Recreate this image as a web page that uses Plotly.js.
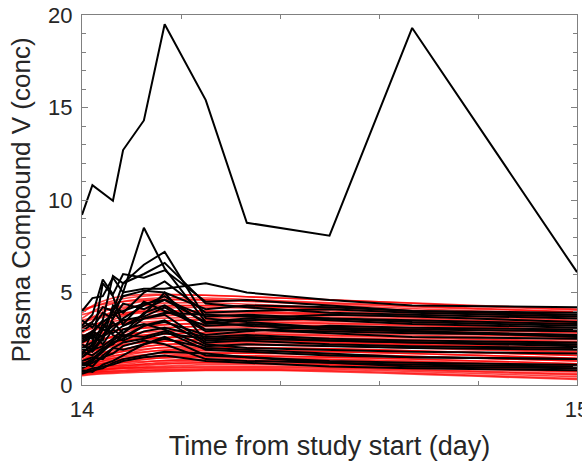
<!DOCTYPE html>
<html>
<head>
<meta charset="utf-8">
<script src="https://cdn.plot.ly/plotly-3.0.1.min.js"></script>
<style>html,body{margin:0;padding:0;background:#fff;}#chart{width:582px;height:461px;}</style>
</head>
<body>
<div id="chart"></div>
<script>
// Simulated (model) time grid, day
var simTime = [14, 14.03, 14.08, 14.15, 14.25, 14.4, 14.6, 14.8, 15];
// Simulated concentration curves (red)
var simValues = [
  [3.9, 4.4, 4.8, 4.9, 4.85, 4.7, 4.5, 4.25, 4.05],
  [4.0, 4.3, 4.65, 4.85, 4.85, 4.7, 4.5, 4.3, 4.1],
  [4.1, 4.3, 4.5, 4.6, 4.6, 4.5, 4.3, 4.1, 3.95],
  [3.6, 4.1, 4.5, 4.7, 4.7, 4.55, 4.35, 4.15, 3.95],
  [3.3, 3.8, 4.3, 4.6, 4.6, 4.45, 4.2, 4.0, 3.8],
  [3.0, 3.6, 4.1, 4.4, 4.45, 4.3, 4.1, 3.9, 3.7],
  [3.8, 4.0, 4.2, 4.3, 4.3, 4.2, 4.0, 3.85, 3.7],
  [2.8, 3.3, 3.8, 4.2, 4.3, 4.2, 4.0, 3.8, 3.6],
  [2.5, 3.1, 3.7, 4.1, 4.2, 4.1, 3.9, 3.7, 3.5],
  [3.4, 3.6, 3.8, 3.95, 4.0, 3.95, 3.8, 3.6, 3.4],
  [3.5, 3.7, 3.9, 4.0, 4.0, 3.9, 3.75, 3.6, 3.45],
  [2.6, 3.0, 3.4, 3.8, 3.9, 3.85, 3.7, 3.5, 3.35],
  [2.2, 2.8, 3.3, 3.7, 3.8, 3.75, 3.6, 3.45, 3.3],
  [3.2, 3.3, 3.5, 3.6, 3.65, 3.6, 3.5, 3.4, 3.25],
  [2.0, 2.5, 3.0, 3.4, 3.55, 3.5, 3.4, 3.25, 3.1],
  [2.9, 3.1, 3.3, 3.45, 3.5, 3.4, 3.3, 3.15, 3.0],
  [1.8, 2.3, 2.8, 3.2, 3.35, 3.35, 3.25, 3.1, 2.95],
  [2.4, 2.7, 3.0, 3.25, 3.3, 3.25, 3.15, 3.0, 2.85],
  [1.6, 2.1, 2.6, 3.0, 3.2, 3.2, 3.1, 2.95, 2.8],
  [2.7, 2.8, 3.0, 3.1, 3.15, 3.1, 3.0, 2.85, 2.7],
  [1.5, 1.9, 2.4, 2.8, 3.0, 3.0, 2.9, 2.75, 2.6],
  [2.1, 2.4, 2.7, 2.9, 3.0, 2.95, 2.85, 2.7, 2.55],
  [1.3, 1.8, 2.3, 2.7, 2.85, 2.85, 2.75, 2.6, 2.45],
  [2.3, 2.45, 2.6, 2.75, 2.8, 2.75, 2.65, 2.5, 2.35],
  [1.2, 1.6, 2.1, 2.5, 2.7, 2.7, 2.6, 2.45, 2.3],
  [2.0, 2.2, 2.4, 2.55, 2.6, 2.55, 2.45, 2.3, 2.15],
  [1.9, 2.1, 2.35, 2.55, 2.6, 2.6, 2.5, 2.35, 2.2],
  [1.1, 1.5, 1.9, 2.3, 2.5, 2.5, 2.4, 2.25, 2.1],
  [1.7, 1.9, 2.15, 2.35, 2.45, 2.4, 2.3, 2.15, 2.0],
  [1.8, 2.0, 2.2, 2.35, 2.4, 2.35, 2.25, 2.1, 1.95],
  [1.0, 1.4, 1.8, 2.15, 2.3, 2.3, 2.2, 2.05, 1.9],
  [1.5, 1.7, 1.95, 2.15, 2.25, 2.2, 2.1, 1.95, 1.8],
  [0.95, 1.3, 1.65, 2.0, 2.15, 2.15, 2.05, 1.9, 1.75],
  [1.4, 1.6, 1.8, 2.0, 2.05, 2.0, 1.9, 1.75, 1.6],
  [0.9, 1.2, 1.55, 1.85, 2.0, 2.0, 1.9, 1.75, 1.6],
  [1.3, 1.45, 1.65, 1.85, 1.9, 1.85, 1.75, 1.6, 1.45],
  [0.85, 1.1, 1.4, 1.7, 1.85, 1.85, 1.75, 1.6, 1.45],
  [1.2, 1.35, 1.5, 1.7, 1.75, 1.7, 1.6, 1.45, 1.3],
  [0.8, 1.05, 1.3, 1.55, 1.7, 1.7, 1.6, 1.45, 1.3],
  [1.1, 1.25, 1.4, 1.55, 1.6, 1.55, 1.45, 1.3, 1.15],
  [0.75, 0.95, 1.2, 1.45, 1.55, 1.55, 1.45, 1.3, 1.15],
  [1.0, 1.15, 1.3, 1.45, 1.5, 1.45, 1.35, 1.2, 1.05],
  [0.7, 0.9, 1.1, 1.3, 1.4, 1.4, 1.3, 1.15, 1.0],
  [0.95, 1.05, 1.2, 1.3, 1.35, 1.3, 1.2, 1.05, 0.9],
  [0.7, 0.85, 1.0, 1.2, 1.3, 1.3, 1.2, 1.05, 0.9],
  [0.65, 0.8, 0.95, 1.1, 1.2, 1.2, 1.1, 0.95, 0.8],
  [0.85, 0.95, 1.05, 1.15, 1.2, 1.15, 1.05, 0.9, 0.75],
  [0.65, 0.75, 0.9, 1.0, 1.1, 1.1, 1.0, 0.85, 0.7],
  [0.7, 0.8, 0.9, 0.95, 1.0, 1.0, 0.9, 0.75, 0.6],
  [0.6, 0.7, 0.8, 0.9, 0.95, 0.95, 0.85, 0.7, 0.55],
  [0.6, 0.68, 0.75, 0.82, 0.88, 0.88, 0.78, 0.62, 0.45],
  [0.55, 0.62, 0.7, 0.78, 0.82, 0.82, 0.7, 0.52, 0.35],
  [0.5, 0.58, 0.65, 0.72, 0.78, 0.78, 0.65, 0.47, 0.3]
];

// Observed sampling times, day
var obsTime = [14, 14.021, 14.042, 14.0625, 14.083, 14.125, 14.167, 14.25, 14.333, 14.5, 14.667, 15];
// Observed concentrations per subject (black); null = not sampled
var obsValues = [
  [9.2, 10.8, null, 9.96, 12.7, 14.3, 19.5, 15.4, 8.77, 8.07, 19.3, 6.1],
  [2.0, 1.8, 2.5, 3.6, 5.0, 8.5, 6.3, 3.4, 3.2, 3.0, 2.9, 2.7],
  [1.5, 2.0, 3.0, 4.0, 5.5, 6.5, 7.2, 3.6, 3.4, 3.1, 2.9, 2.6],
  [2.5, 2.8, 3.5, 5.9, 5.5, 6.0, 6.6, 4.4, 4.2, 3.9, 3.8, 3.6],
  [4.0, 4.7, 4.8, 5.8, 5.0, 5.2, 5.2, 5.5, 5.0, 4.6, 4.3, 4.2],
  [3.2, 3.8, 5.7, 4.9, 6.0, 5.8, 6.2, 4.5, 4.6, 4.3, 4.0, 3.9],
  [1.7, 2.2, 5.5, 4.8, 3.2, 3.8, 5.0, 2.4, 2.5, 2.4, 2.3, 2.2],
  [2.2, 1.9, 2.6, 3.0, 3.6, 4.3, 4.8, 3.3, 3.5, 3.6, 3.4, 3.2],
  [1.6, 2.9, 2.6, 3.4, 2.8, 3.9, 4.3, 3.0, 3.0, 2.9, 2.8, 2.7],
  [1.0, 1.3, 1.8, 2.3, 2.5, 3.2, 3.5, 2.2, 2.0, 1.9, 1.8, 1.7],
  [0.8, 0.7, 1.1, 1.3, 1.6, 2.2, 2.5, 2.0, 1.9, 1.7, 1.5, 1.4],
  [2.7, 2.5, 3.1, 4.0, 3.3, 4.5, 4.0, 3.2, 3.3, 3.1, 3.0, 2.9],
  [1.3, 1.5, 1.4, 2.0, 2.3, 2.5, 2.8, 2.5, 2.6, 2.4, 2.3, 2.1],
  [2.9, 3.3, 3.0, 2.8, 3.2, 3.6, 3.9, 3.8, 3.7, 3.5, 3.3, 3.1],
  [0.6, 0.8, 0.9, 1.2, 1.4, 1.6, 1.8, 1.7, 1.5, 1.2, 1.0, 0.9],
  [1.9, 2.1, 3.3, 2.7, 2.4, 2.9, 3.1, 2.6, 2.7, 2.5, 2.4, 2.3],
  [2.3, 2.6, 2.4, 4.3, 3.9, 5.0, 5.6, 3.9, 4.0, 4.1, 3.9, 3.7],
  [1.2, 1.0, 1.6, 2.0, 1.9, 2.2, 2.6, 1.6, 1.5, 1.3, 1.2, 1.1],
  [3.5, 3.1, 3.9, 3.6, 4.4, 4.1, 4.6, 3.4, 3.6, 3.8, 3.7, 3.4],
  [1.5, 1.9, 2.1, 2.5, 3.0, 3.3, 3.0, 2.1, 2.2, 2.1, 2.0, 1.9],
  [2.0, 2.3, 2.7, 3.2, 3.5, 3.7, 4.2, 2.9, 3.0, 2.8, 2.6, 2.5],
  [0.9, 1.2, 1.5, 1.7, 2.1, 2.4, 2.2, 1.4, 1.3, 1.2, 1.1, 1.0],
  [2.4, 2.7, 2.2, 3.0, 2.6, 3.2, 3.4, 2.7, 2.9, 3.2, 3.1, 3.0],
  [1.1, 1.4, 1.9, 2.4, 2.8, 3.6, 3.8, 2.3, 2.4, 2.2, 2.1, 2.0],
  [3.1, 3.4, 4.2, 4.0, 4.8, 5.1, 5.0, 4.1, 4.3, 4.2, 4.0, 3.8],
  [0.7, 0.9, 1.0, 1.1, 1.3, 1.5, 1.6, 1.3, 1.2, 1.0, 0.9, 0.8],
  [1.8, 1.6, 2.0, 2.2, 2.7, 2.6, 2.9, 1.9, 1.8, 1.6, 1.5, 1.4],
  [2.6, 2.9, 3.4, 3.8, 4.0, 4.4, 4.6, 3.7, 3.8, 3.6, 3.5, 3.3]
];

var xTickVals = [14, 15];
var xTickText = ['14', '15'];
var yTickVals = [0, 5, 10, 15, 20];
var yTickText = ['0', '5', '10', '15', '20'];

var traces = [];
simValues.forEach(function (v) {
  traces.push({
    type: 'scatter', mode: 'lines', x: simTime, y: v,
    line: {color: 'rgba(255,0,0,0.75)', width: 1.6, shape: 'spline', smoothing: 0.8},
    hoverinfo: 'skip', showlegend: false
  });
});
obsValues.forEach(function (v) {
  traces.push({
    type: 'scatter', mode: 'lines', x: obsTime, y: v, connectgaps: true,
    line: {color: '#000000', width: 2},
    hoverinfo: 'skip', showlegend: false
  });
});

var FONT = 'Liberation Sans, Arial, Helvetica, sans-serif';
var axisCommon = {
  showgrid: false, zeroline: false, showline: true, mirror: 'ticks',
  linecolor: '#808080', linewidth: 1,
  ticks: 'inside', ticklen: 6, tickwidth: 1, tickcolor: '#808080',
  ticklabeloverflow: 'allow',
  tickfont: {family: FONT, size: 22, color: '#262626'}
};

var layout = {
  width: 582, height: 461,
  margin: {l: 82, r: 5, t: 15, b: 76},
  paper_bgcolor: '#ffffff', plot_bgcolor: '#ffffff',
  showlegend: false,
  xaxis: Object.assign({}, axisCommon, {
    range: [14, 15], tickmode: 'array', tickvals: xTickVals, ticktext: xTickText,
    ticklabelstandoff: 5,
    minor: {dtick: 0.2, tick0: 14, ticks: 'inside', ticklen: 4, tickcolor: '#808080', showgrid: false},
    title: {text: 'Time from study start (day)', standoff: 15,
      font: {family: FONT, size: 27, color: '#262626'}}
  }),
  yaxis: Object.assign({}, axisCommon, {
    range: [0, 20], tickmode: 'array', tickvals: yTickVals, ticktext: yTickText,
    ticklabelstandoff: 4,
    minor: {dtick: 1, tick0: 0, ticks: 'inside', ticklen: 4, tickcolor: '#808080', showgrid: false},
    title: {text: 'Plasma Compound V (conc)', standoff: 10,
      font: {family: FONT, size: 26, color: '#262626'}}
  })
};

Plotly.newPlot('chart', traces, layout, {staticPlot: true, displayModeBar: false});
</script>
</body>
</html>
